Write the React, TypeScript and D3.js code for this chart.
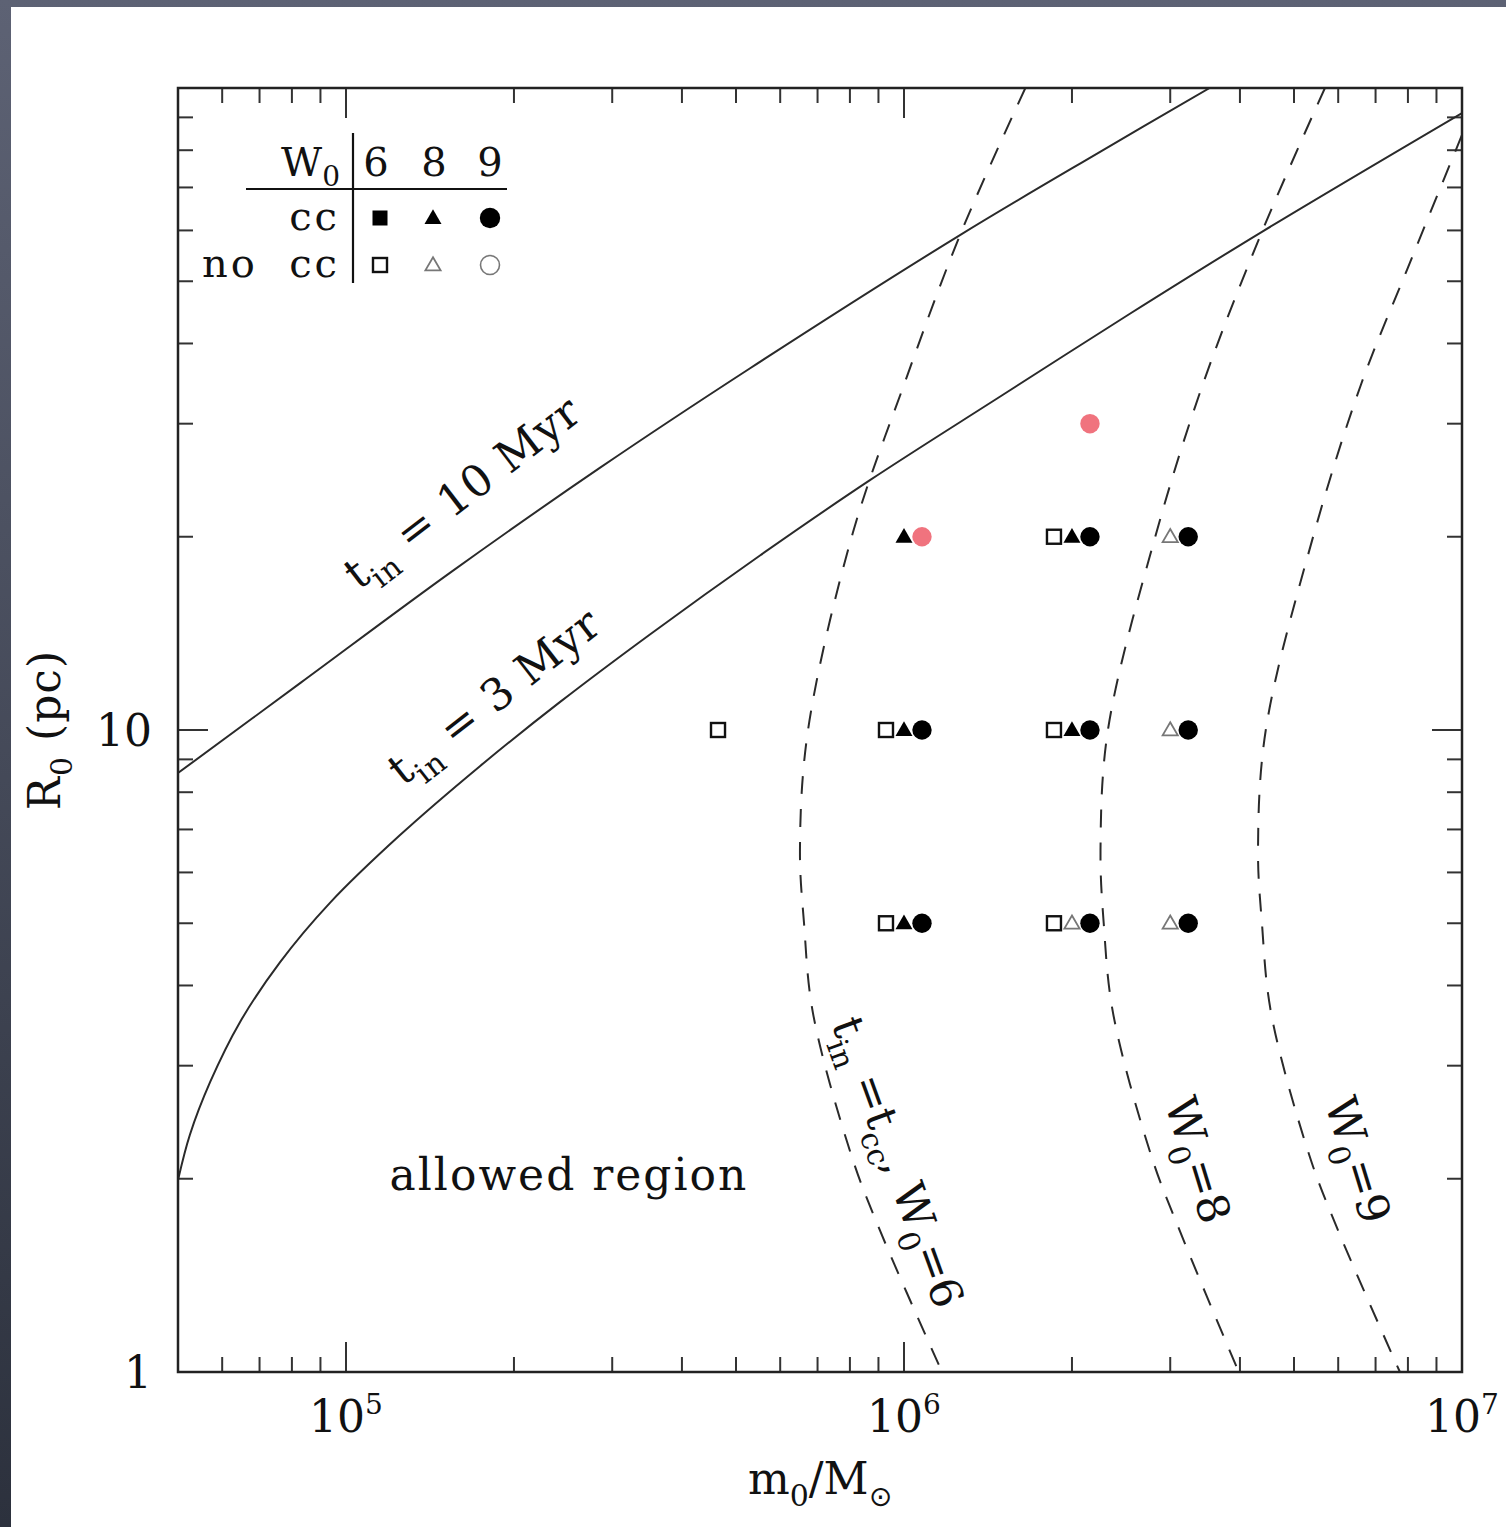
import React from "react";
import * as d3 from "d3";

const W = 1506;
const H = 1527;
const FONT = "'DejaVu Serif', 'Liberation Serif', serif";

// t_in = 10 Myr (solid)
const tin10Mass = [5e4, 8.3e4, 1.54e5, 2.85e5, 5.3e5, 1.26e6, 2.25e6, 3.53e6];
const tin10Radius = [8.57, 11.85, 17.6, 25.6, 36.6, 59, 79.6, 100];

// t_in = 3 Myr (solid)
const tin3Mass = [5e4, 5.25e4, 5.71e4, 6.46e4, 7.62e4, 9.36e4, 1.25e5, 1.74e5, 2.42e5, 3.51e5, 5.52e5, 8.69e5, 1.49e6, 2.54e6, 4.38e6, 1e7];
const tin3Radius = [1.99, 2.34, 2.83, 3.51, 4.35, 5.38, 6.86, 8.79, 11.06, 14.1, 18.7, 24.5, 33.1, 44.5, 59.7, 91.4];

// t_in = t_cc curves (dashed)
const cc6Mass = [1.65e6, 1.26e6, 1.0e6, 8.1e5, 6.73e5, 6.51e5, 6.62e5, 6.87e5, 8.07e5, 9.06e5, 1.17e6];
const cc6Radius = [100, 59, 34.5, 20.3, 10, 6.5, 5, 3.62, 2.16, 1.66, 1];
const cc8Mass = [5.68e6, 4.38e6, 3.43e6, 2.82e6, 2.32e6, 2.25e6, 2.28e6, 2.37e6, 2.78e6, 3.12e6, 3.98e6];
const cc8Radius = [100, 59.7, 34.5, 20, 10, 6.5, 5, 3.62, 2.16, 1.66, 1];
const cc9Mass = [1e7, 7.97e6, 6.59e6, 5.41e6, 4.45e6, 4.31e6, 4.38e6, 4.55e6, 5.34e6, 6.0e6, 7.74e6];
const cc9Radius = [84.5, 52.1, 34.5, 20, 10, 6.5, 5, 3.62, 2.16, 1.66, 1];

// simulated clusters
const ptMass = [1e6, 1e6, 2e6, 2e6, 2e6, 3e6, 3e6, 2e6, 5e5, 1e6, 1e6, 1e6, 2e6, 2e6, 2e6, 3e6, 3e6, 1e6, 1e6, 1e6, 2e6, 2e6, 2e6, 3e6, 3e6];
const ptRadius = [20, 20, 20, 20, 20, 20, 20, 30, 10, 10, 10, 10, 10, 10, 10, 10, 10, 5, 5, 5, 5, 5, 5, 5, 5];
const ptW0 = [8, 9, 6, 8, 9, 8, 9, 9, 6, 6, 8, 9, 6, 8, 9, 8, 9, 6, 8, 9, 6, 8, 9, 8, 9];
// "cc" = core collapse, "no" = no core collapse, "red" = highlighted
const ptState = ["cc", "red", "no", "cc", "cc", "no", "cc", "red", "no", "no", "cc", "cc", "no", "cc", "cc", "no", "cc", "no", "cc", "cc", "no", "no", "cc", "no", "cc"];

const legendW0 = [6, 8, 9];

const W0_OFFSET: Record<number, number> = { 6: -18, 8: 0, 9: 18 };

function Marker({ cx, cy, w0, state, big = 1 }: any) {
  const filled = state !== "no";
  const color = state === "red" ? "#f0737e" : "#000";
  if (w0 === 6) {
    const s = filled ? 15 : 14;
    return (
      <rect x={cx - s / 2} y={cy - s / 2} width={s} height={s}
        fill={filled ? color : "#fff"} stroke={filled ? "none" : "#111"} strokeWidth={2.4} />
    );
  }
  if (w0 === 8) {
    const p = d3.symbol(d3.symbolTriangle, filled ? 125 : 100)();
    return (
      <path d={p || ""} transform={`translate(${cx},${cy + 1})`}
        fill={filled ? color : "#fff"} stroke={filled ? "none" : "#777"} strokeWidth={1.8} />
    );
  }
  return (
    <circle cx={cx} cy={cy} r={filled ? 9.7 * big : 9.5}
      fill={filled ? color : "#fff"} stroke={filled ? "none" : "#777"} strokeWidth={1.6} />
  );
}

export default function App() {
  const x = d3.scaleLog().domain([5e4, 1e7]).range([178, 1462]);
  const y = d3.scaleLog().domain([1, 100]).range([1372, 88]);
  const [x0, x1] = x.range();
  const [y0, y1] = y.range();

  const path = (ms: number[], rs: number[]) =>
    d3.line<number>()
      .x(i => x(ms[i]))
      .y(i => y(rs[i]))
      .curve(d3.curveCatmullRom.alpha(0.5))(ms.map((_, i) => i)) || "";

  const xTicks: { v: number; major: boolean }[] = [];
  for (let e = 4; e <= 7; e++)
    for (let k = 1; k <= 9; k++) {
      const v = k * Math.pow(10, e);
      if (v >= 5e4 && v <= 1e7) xTicks.push({ v, major: k === 1 });
    }
  const yTicks: { v: number; major: boolean }[] = [];
  for (let e = 0; e <= 2; e++)
    for (let k = 1; k <= 9; k++) {
      const v = k * Math.pow(10, e);
      if (v >= 1 && v <= 100) yTicks.push({ v, major: k === 1 });
    }

  const tickColor = "#333";
  const sub = 12;

  return (
    <svg width={W} height={H} style={{ position: "absolute", left: 0, top: 0, display: "block" }}
      fontFamily={FONT}>
      <defs>
        <linearGradient id="bg" x1="0" y1="0" x2="0" y2="1">
          <stop offset="0" stopColor="#5d6274" />
          <stop offset="1" stopColor="#2c313d" />
        </linearGradient>
        <clipPath id="plot">
          <rect x={x0} y={y1} width={x1 - x0} height={y0 - y1} />
        </clipPath>
      </defs>
      <rect x={0} y={0} width={W} height={H} fill="url(#bg)" />
      <rect x={11} y={7} width={W - 11} height={H - 7} fill="#fff" />

      {/* ticks */}
      {xTicks.map((t, i) => {
        const len = t.major ? 30 : 15;
        const px = x(t.v);
        return (
          <g key={"xt" + i} stroke={tickColor} strokeWidth={2}>
            <line x1={px} x2={px} y1={y0} y2={y0 - len} />
            <line x1={px} x2={px} y1={y1} y2={y1 + len} />
          </g>
        );
      })}
      {yTicks.map((t, i) => {
        const len = t.major ? 30 : 15;
        const py = y(t.v);
        return (
          <g key={"yt" + i} stroke={tickColor} strokeWidth={2}>
            <line x1={x0} x2={x0 + len} y1={py} y2={py} />
            <line x1={x1} x2={x1 - len} y1={py} y2={py} />
          </g>
        );
      })}

      {/* curves */}
      <g clipPath="url(#plot)" fill="none" stroke="#2a2a2a" strokeWidth={2}>
        <path d={path(tin10Mass, tin10Radius)} />
        <path d={path(tin3Mass, tin3Radius)} />
        <g strokeDasharray="18 15">
          <path d={path(cc6Mass, cc6Radius)} />
          <path d={path(cc8Mass, cc8Radius)} />
          <path d={path(cc9Mass, cc9Radius)} />
        </g>
      </g>

      {/* frame */}
      <rect x={x0} y={y1} width={x1 - x0} height={y0 - y1} fill="none" stroke="#222" strokeWidth={2.5} />

      {/* points */}
      {ptMass.map((m, i) => (
        <Marker key={"p" + i} cx={x(m) + W0_OFFSET[ptW0[i]]} cy={y(ptRadius[i])} w0={ptW0[i]} state={ptState[i]} />
      ))}

      {/* tick labels */}
      <g fontSize={44} fill="#111">
        {[1e5, 1e6, 1e7].map(v => (
          <text key={v} x={x(v)} y={1432} textAnchor="middle">
            10<tspan fontSize={28} dy={-18}>{Math.round(Math.log10(v))}</tspan>
          </text>
        ))}
        {[1, 10].map(v => (
          <text key={v} x={152} y={y(v)} dy="0.36em" textAnchor="end">{v}</text>
        ))}
      </g>

      {/* axis titles */}
      <text x={(x0 + x1) / 2} y={1494} textAnchor="middle" fontSize={44} fill="#111">
        m<tspan fontSize={30} dy={sub}>0</tspan><tspan dy={-sub}>/M</tspan>
        <tspan fontSize={28} dy={sub} fontFamily="'DejaVu Sans', sans-serif">⊙</tspan>
      </text>
      <text transform={`translate(60,${(y0 + y1) / 2}) rotate(-90)`} textAnchor="middle" fontSize={44} fill="#111" letterSpacing={1}>
        R<tspan fontSize={30} dy={sub}>0</tspan><tspan dy={-sub}> (pc)</tspan>
      </text>

      {/* curve labels */}
      <g fontSize={44} fill="#111">
        <text transform="translate(462,492) rotate(-37.5)" textAnchor="middle" dy="0.35em" letterSpacing={1}>
          t<tspan fontSize={30} dy={sub}>in</tspan><tspan dy={-sub}> = 10 Myr</tspan>
        </text>
        <text transform="translate(494,696) rotate(-38)" textAnchor="middle" dy="0.35em" letterSpacing={1}>
          t<tspan fontSize={30} dy={sub}>in</tspan><tspan dy={-sub}> = 3 Myr</tspan>
        </text>
        <text transform="translate(898,1162) rotate(70)" textAnchor="middle" dy="0.35em">
          t<tspan fontSize={30} dy={sub}>in</tspan><tspan dy={-sub}> =t</tspan>
          <tspan fontSize={30} dy={sub}>cc</tspan><tspan dy={-sub}>, W</tspan>
          <tspan fontSize={30} dy={sub}>0</tspan><tspan dy={-sub}>=6</tspan>
        </text>
        <text transform="translate(1198,1160) rotate(73)" textAnchor="middle" dy="0.35em">
          W<tspan fontSize={30} dy={sub}>0</tspan><tspan dy={-sub}>=8</tspan>
        </text>
        <text transform="translate(1358,1160) rotate(73)" textAnchor="middle" dy="0.35em">
          W<tspan fontSize={30} dy={sub}>0</tspan><tspan dy={-sub}>=9</tspan>
        </text>
        <text x={569} y={1190} textAnchor="middle" letterSpacing={2}>allowed region</text>
      </g>

      {/* legend */}
      <g fill="#111" fontSize={40}>
        <line x1={246} x2={507} y1={189} y2={189} stroke="#111" strokeWidth={2.2} />
        <line x1={353} x2={353} y1={133} y2={283} stroke="#111" strokeWidth={2.2} />
        <text x={340} y={176} textAnchor="end">
          W<tspan fontSize={28} dy={10}>0</tspan>
        </text>
        {legendW0.map((w, i) => (
          <text key={"lw" + w} x={[376, 434, 490][i]} y={176} textAnchor="middle">{w}</text>
        ))}
        <text x={340} y={230} textAnchor="end" letterSpacing={3}>cc</text>
        <text x={340} y={277} textAnchor="end" letterSpacing={3} xmlSpace="preserve">no  cc</text>
        {legendW0.map((w, i) => (
          <Marker key={"lc" + w} cx={[380, 433, 490][i]} cy={218} w0={w} state="cc" big={1.05} />
        ))}
        {legendW0.map((w, i) => (
          <Marker key={"ln" + w} cx={[380, 433, 490][i]} cy={265} w0={w} state="no" />
        ))}
      </g>
    </svg>
  );
}
